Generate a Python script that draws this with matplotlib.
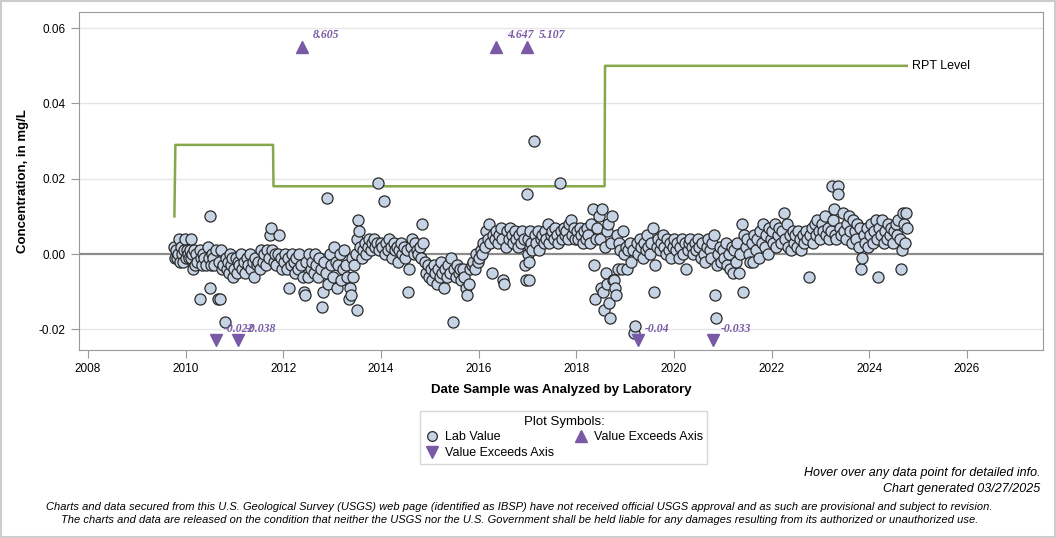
import numpy as np
import matplotlib.pyplot as plt
from matplotlib.patches import Rectangle
from matplotlib.lines import Line2D

# Lab values (decimal year, mg/L), grouped by period
lab_2009_2011 = [
    (2009.76, 0.002), (2009.78, -0.001), (2009.80, 0.001), (2009.82, -0.001), (2009.84, 0.000),
    (2009.86, 0.004), (2009.88, -0.002), (2009.90, 0.002), (2009.92, 0.000), (2009.94, -0.002),
    (2009.96, 0.001), (2009.98, 0.004), (2010.00, -0.001), (2010.02, 0.001), (2010.04, 0.000),
    (2010.06, -0.001), (2010.08, 0.001), (2010.10, 0.004), (2010.12, -0.001), (2010.14, 0.000),
    (2010.16, -0.004), (2010.18, 0.001), (2010.20, -0.003), (2010.22, 0.000), (2010.24, -0.002),
    (2010.29, -0.012), (2010.30, 0.001), (2010.32, -0.001), (2010.34, -0.003), (2010.36, 0.000),
    (2010.38, -0.001), (2010.42, -0.003), (2010.46, 0.002), (2010.48, -0.001), (2010.49, -0.009),
    (2010.50, 0.010), (2010.52, -0.003), (2010.54, 0.000), (2010.56, -0.001), (2010.58, -0.003),
    (2010.62, 0.001), (2010.66, -0.012), (2010.68, -0.002), (2010.70, -0.012), (2010.72, 0.001),
    (2010.74, -0.004), (2010.77, -0.003), (2010.80, -0.018), (2010.82, -0.001), (2010.84, -0.004),
    (2010.86, -0.002), (2010.88, -0.005), (2010.90, 0.000), (2010.93, -0.003), (2010.95, -0.001),
    (2010.97, -0.006),
]
lab_2011_2013 = [
    (2011.00, -0.004), (2011.03, -0.001), (2011.05, -0.005), (2011.08, -0.002), (2011.10, -0.003),
    (2011.13, 0.000), (2011.16, -0.004), (2011.19, -0.002), (2011.22, -0.005), (2011.25, -0.001),
    (2011.28, -0.003), (2011.31, 0.000), (2011.34, -0.004), (2011.37, -0.002), (2011.40, -0.006),
    (2011.43, -0.001), (2011.46, -0.003), (2011.49, -0.002), (2011.52, -0.004), (2011.55, 0.001),
    (2011.58, -0.002), (2011.61, 0.000), (2011.64, -0.003), (2011.67, 0.001), (2011.70, -0.001),
    (2011.73, 0.005), (2011.75, 0.007), (2011.77, 0.001), (2011.80, -0.002), (2011.83, 0.000),
    (2011.86, -0.003), (2011.89, 0.000), (2011.92, 0.005), (2011.95, -0.001), (2011.98, -0.004),
    (2012.01, -0.002), (2012.04, 0.000), (2012.07, -0.004), (2012.10, -0.001), (2012.12, -0.009),
    (2012.15, -0.003), (2012.18, 0.000), (2012.21, -0.002), (2012.24, -0.005), (2012.27, -0.001),
    (2012.30, -0.004), (2012.33, 0.000), (2012.36, -0.003), (2012.40, -0.006), (2012.43, -0.010),
    (2012.45, -0.011), (2012.47, -0.002), (2012.50, -0.006), (2012.53, 0.000), (2012.56, -0.004),
    (2012.59, -0.002), (2012.62, -0.005), (2012.65, 0.000), (2012.68, -0.003), (2012.71, -0.006),
    (2012.74, -0.001), (2012.77, -0.004), (2012.80, -0.014), (2012.82, -0.010), (2012.84, -0.002),
    (2012.87, -0.005), (2012.90, 0.015), (2012.92, -0.008), (2012.95, 0.000), (2012.98, -0.003),
]
lab_2013_2015 = [
    (2013.01, -0.006), (2013.04, 0.002), (2013.07, -0.002), (2013.10, -0.009), (2013.13, -0.003),
    (2013.16, 0.000), (2013.19, -0.007), (2013.22, -0.004), (2013.25, 0.001), (2013.28, -0.003),
    (2013.31, -0.006), (2013.34, -0.012), (2013.36, -0.009), (2013.38, -0.011), (2013.40, -0.001),
    (2013.42, -0.006), (2013.45, -0.003), (2013.48, 0.000), (2013.50, -0.015), (2013.52, 0.004),
    (2013.54, 0.009), (2013.56, 0.006), (2013.58, 0.002), (2013.61, -0.001), (2013.64, 0.001),
    (2013.67, 0.003), (2013.70, 0.000), (2013.73, 0.002), (2013.76, 0.004), (2013.79, 0.001),
    (2013.82, 0.003), (2013.85, 0.004), (2013.88, 0.002), (2013.91, 0.003), (2013.94, 0.019),
    (2013.97, 0.001),
    (2014.00, 0.003), (2014.03, 0.002), (2014.06, 0.014), (2014.08, 0.000), (2014.11, 0.003),
    (2014.14, 0.001), (2014.17, 0.004), (2014.20, 0.002), (2014.23, -0.001), (2014.26, 0.003),
    (2014.29, 0.001), (2014.32, 0.002), (2014.35, -0.002), (2014.38, 0.001), (2014.41, 0.003),
    (2014.44, 0.000), (2014.47, 0.002), (2014.50, -0.001), (2014.53, 0.001), (2014.56, -0.010),
    (2014.58, -0.004), (2014.61, 0.002), (2014.64, 0.004), (2014.67, 0.000), (2014.70, 0.003),
    (2014.73, 0.001), (2014.76, 0.000), (2014.79, 0.002), (2014.82, -0.001), (2014.85, 0.008),
    (2014.87, 0.003), (2014.90, -0.002), (2014.93, -0.005), (2014.96, -0.003), (2014.99, -0.006),
]
lab_2015_2017 = [
    (2015.02, -0.004), (2015.05, -0.007), (2015.08, -0.003), (2015.11, -0.005), (2015.14, -0.008),
    (2015.17, -0.004), (2015.20, -0.006), (2015.23, -0.002), (2015.26, -0.005), (2015.29, -0.009),
    (2015.32, -0.004), (2015.35, -0.006), (2015.38, -0.003), (2015.41, -0.005), (2015.44, -0.001),
    (2015.47, -0.018), (2015.50, -0.004), (2015.53, -0.006), (2015.56, -0.003), (2015.59, -0.005),
    (2015.62, -0.004), (2015.65, -0.007), (2015.68, -0.004), (2015.71, -0.006), (2015.74, -0.009),
    (2015.77, -0.011), (2015.80, -0.008), (2015.83, -0.004), (2015.86, -0.003), (2015.89, -0.002),
    (2015.92, -0.004), (2015.95, 0.000), (2015.98, -0.002),
    (2016.01, -0.001), (2016.04, 0.001), (2016.07, 0.000), (2016.10, 0.003), (2016.13, 0.002),
    (2016.16, 0.006), (2016.19, 0.004), (2016.21, 0.008), (2016.24, 0.003), (2016.27, -0.005),
    (2016.30, 0.005), (2016.33, 0.004), (2016.36, 0.006), (2016.39, 0.003), (2016.42, 0.005),
    (2016.45, 0.007), (2016.48, 0.004), (2016.51, -0.007), (2016.53, -0.008), (2016.56, 0.002),
    (2016.59, 0.006), (2016.62, 0.004), (2016.65, 0.007), (2016.68, 0.005), (2016.71, 0.003),
    (2016.74, 0.006), (2016.77, 0.004), (2016.80, 0.002), (2016.83, 0.005), (2016.86, 0.003),
    (2016.89, 0.006), (2016.92, 0.004), (2016.95, -0.003), (2016.97, -0.007), (2016.99, 0.016),
]
lab_2017_2019 = [
    (2017.01, 0.004), (2017.02, 0.000), (2017.03, -0.007), (2017.04, -0.002), (2017.05, 0.002),
    (2017.06, 0.006), (2017.08, 0.003), (2017.10, 0.001), (2017.13, 0.030), (2017.15, 0.005),
    (2017.18, 0.003), (2017.21, 0.006), (2017.24, 0.001), (2017.27, 0.004), (2017.30, 0.005),
    (2017.33, 0.003), (2017.36, 0.006), (2017.39, 0.004), (2017.42, 0.008), (2017.45, 0.003),
    (2017.48, 0.005), (2017.51, 0.006), (2017.54, 0.004), (2017.57, 0.007), (2017.60, 0.005),
    (2017.63, 0.003), (2017.66, 0.019), (2017.68, 0.006), (2017.71, 0.004), (2017.74, 0.007),
    (2017.77, 0.005), (2017.80, 0.006), (2017.83, 0.004), (2017.86, 0.008), (2017.89, 0.009),
    (2017.92, 0.005), (2017.95, 0.007), (2017.98, 0.004),
    (2018.01, 0.006), (2018.04, 0.004), (2018.07, 0.007), (2018.10, 0.005), (2018.13, 0.003),
    (2018.16, 0.006), (2018.19, 0.004), (2018.22, 0.007), (2018.25, 0.005), (2018.28, 0.003),
    (2018.31, 0.008), (2018.34, 0.012), (2018.36, -0.003), (2018.38, -0.012), (2018.40, 0.004),
    (2018.43, 0.007), (2018.46, 0.010), (2018.48, 0.004), (2018.50, -0.009), (2018.52, 0.012),
    (2018.54, -0.010), (2018.56, -0.015), (2018.58, 0.002), (2018.60, -0.005), (2018.62, 0.006),
    (2018.64, -0.008), (2018.66, 0.008), (2018.68, -0.013), (2018.70, -0.017), (2018.72, 0.003),
    (2018.74, 0.010), (2018.76, -0.007), (2018.78, -0.007), (2018.80, -0.009), (2018.82, -0.011),
    (2018.84, 0.005), (2018.86, -0.004), (2018.88, 0.003), (2018.90, 0.001), (2018.93, -0.004),
    (2018.96, 0.006), (2018.98, 0.000),
]
lab_2019_2021 = [
    (2019.01, 0.002), (2019.04, -0.004), (2019.07, 0.001), (2019.10, 0.003), (2019.13, -0.002),
    (2019.16, 0.001), (2019.19, -0.021), (2019.21, -0.019), (2019.24, 0.003), (2019.27, 0.000),
    (2019.30, 0.004), (2019.33, 0.002), (2019.36, -0.001), (2019.39, 0.003), (2019.42, 0.001),
    (2019.45, 0.005), (2019.48, 0.002), (2019.51, 0.000), (2019.54, 0.003), (2019.57, 0.007),
    (2019.59, -0.010), (2019.62, -0.003), (2019.65, 0.002), (2019.68, 0.004), (2019.71, 0.001),
    (2019.74, 0.003), (2019.77, 0.005), (2019.80, 0.002), (2019.83, 0.000), (2019.86, 0.004),
    (2019.89, 0.001), (2019.92, 0.003), (2019.95, -0.001), (2019.98, 0.002),
    (2020.01, 0.004), (2020.04, 0.001), (2020.07, 0.003), (2020.10, -0.001), (2020.13, 0.002),
    (2020.16, 0.004), (2020.19, 0.000), (2020.22, 0.003), (2020.25, -0.004), (2020.28, 0.001),
    (2020.31, 0.003), (2020.34, 0.004), (2020.37, 0.002), (2020.40, 0.000), (2020.43, 0.003),
    (2020.46, 0.001), (2020.49, 0.004), (2020.52, 0.002), (2020.55, -0.001), (2020.58, 0.003),
    (2020.61, 0.000), (2020.64, -0.002), (2020.67, 0.002), (2020.70, 0.004), (2020.73, 0.001),
    (2020.76, -0.001), (2020.79, 0.003), (2020.82, 0.005), (2020.84, -0.011), (2020.86, -0.017),
    (2020.88, -0.003), (2020.91, 0.000), (2020.94, 0.002), (2020.97, -0.002),
]
lab_2021_2023 = [
    (2021.00, 0.001), (2021.03, -0.001), (2021.06, 0.003), (2021.09, -0.003), (2021.12, 0.000),
    (2021.15, -0.004), (2021.18, 0.002), (2021.21, -0.005), (2021.24, 0.001), (2021.27, -0.002),
    (2021.30, 0.003), (2021.33, -0.005), (2021.36, 0.000), (2021.39, 0.008), (2021.41, -0.010),
    (2021.44, 0.005), (2021.47, 0.002), (2021.50, 0.004), (2021.53, 0.000), (2021.56, -0.002),
    (2021.59, 0.003), (2021.62, -0.002), (2021.65, 0.005), (2021.68, 0.001), (2021.71, 0.004),
    (2021.74, -0.001), (2021.77, 0.006), (2021.80, 0.003), (2021.83, 0.008), (2021.86, 0.002),
    (2021.89, 0.005), (2021.92, 0.000), (2021.95, 0.007), (2021.98, 0.004),
    (2022.01, 0.006), (2022.04, 0.003), (2022.07, 0.008), (2022.10, 0.002), (2022.13, 0.005),
    (2022.16, 0.007), (2022.19, 0.003), (2022.22, 0.006), (2022.25, 0.011), (2022.28, 0.004),
    (2022.31, 0.008), (2022.34, 0.002), (2022.37, 0.005), (2022.40, 0.001), (2022.43, 0.006),
    (2022.46, 0.003), (2022.49, 0.005), (2022.52, 0.002), (2022.55, 0.006), (2022.58, 0.004),
    (2022.61, 0.001), (2022.64, 0.005), (2022.67, 0.003), (2022.70, 0.006), (2022.73, 0.004),
    (2022.76, -0.006), (2022.79, 0.005), (2022.82, 0.007), (2022.85, 0.003), (2022.88, 0.008),
    (2022.91, 0.005), (2022.94, 0.009), (2022.97, 0.006),
]
lab_2023_2025 = [
    (2023.00, 0.004), (2023.03, 0.008), (2023.06, 0.006), (2023.09, 0.010), (2023.12, 0.005),
    (2023.15, 0.007), (2023.18, 0.004), (2023.21, 0.006), (2023.24, 0.018), (2023.26, 0.009),
    (2023.28, 0.012), (2023.30, 0.005), (2023.33, 0.004), (2023.36, 0.018), (2023.37, 0.016),
    (2023.40, 0.007), (2023.43, 0.005), (2023.46, 0.011), (2023.49, 0.006), (2023.52, 0.004),
    (2023.55, 0.008), (2023.58, 0.010), (2023.61, 0.006), (2023.64, 0.003), (2023.67, 0.009),
    (2023.70, 0.006), (2023.73, 0.004), (2023.76, 0.008), (2023.79, 0.002), (2023.82, 0.007),
    (2023.84, -0.004), (2023.86, -0.001), (2023.89, 0.005), (2023.92, 0.003), (2023.95, 0.007),
    (2023.98, 0.002),
    (2024.01, 0.005), (2024.04, 0.008), (2024.07, 0.003), (2024.10, 0.006), (2024.13, 0.009),
    (2024.16, 0.004), (2024.19, -0.006), (2024.21, 0.007), (2024.24, 0.005), (2024.27, 0.009),
    (2024.30, 0.003), (2024.33, 0.006), (2024.36, 0.004), (2024.39, 0.008), (2024.42, 0.005),
    (2024.45, 0.007), (2024.48, 0.003), (2024.51, 0.006), (2024.54, 0.008), (2024.57, 0.005),
    (2024.60, 0.009), (2024.63, 0.004), (2024.65, -0.004), (2024.67, 0.001), (2024.69, 0.011),
    (2024.71, 0.008), (2024.73, 0.003), (2024.75, 0.011), (2024.77, 0.007),
]

# RPT level (step line)
rpt_years = [2009.77, 2009.79, 2011.79, 2011.80, 2018.58, 2018.59, 2024.77]
rpt_values = [0.010, 0.029, 0.029, 0.018, 0.018, 0.050, 0.050]

# values off the axis (shown as triangles with the real value as label)
high_years = [2012.38, 2016.35, 2017.00]
high_labels = ["8.605", "4.647", "5.107"]
low_years = [2010.63, 2011.08, 2019.27, 2020.81]
low_labels = ["-0.022", "-0.038", "-0.04", "-0.033"]

lab = (lab_2009_2011 + lab_2011_2013 + lab_2013_2015 + lab_2015_2017
       + lab_2017_2019 + lab_2019_2021 + lab_2021_2023 + lab_2023_2025)
lab_x = np.array([p[0] for p in lab])
lab_y = np.array([p[1] for p in lab])

plt.rcParams['font.family'] = ['Liberation Sans', 'DejaVu Sans']
purple = '#7a5aa6'

fig = plt.figure(figsize=(10.56, 5.38), dpi=100)
ax = fig.add_axes([0.0748, 0.3494, 0.9129, 0.6283])

ax.set_xlim(2007.816, 2027.56)
ax.set_ylim(-0.0255, 0.0643)

for g in [-0.02, 0.02, 0.04, 0.06]:
    ax.axhline(g, color='#e6e6e6', lw=1, zorder=0)
ax.axhline(0, color='#8c8c8c', lw=1.6, zorder=1)

ax.plot(rpt_years, rpt_values, color='#86a74a', lw=1.8, zorder=2)
ax.text(rpt_years[-1] + 0.1, rpt_values[-1], "RPT Level", fontsize=9, va='center', ha='left')

ax.plot(lab_x, lab_y, 'o', ms=8, mfc='#c6d3e5', mec='#2a2a2a', mew=0.9, zorder=3, ls='none')

ax.plot(high_years, [0.055] * len(high_years), '^', ms=8, color=purple, mec=purple, zorder=4, ls='none')
for x, lbl in zip(high_years, high_labels):
    ax.annotate(lbl, (x, 0.055), xytext=(8, 4), textcoords='offset points',
                fontsize=8.5, color=purple, fontweight='bold', fontstyle='italic',
                family='Liberation Serif', va='bottom', ha='left')

ax.plot(low_years, [-0.0229] * len(low_years), 'v', ms=8, color=purple, mec=purple, zorder=4, ls='none')
for x, lbl in zip(low_years, low_labels):
    ax.annotate(lbl, (x, -0.0229), xytext=(5, 4), textcoords='offset points',
                fontsize=8.5, color=purple, fontweight='bold', fontstyle='italic',
                family='Liberation Serif', va='bottom', ha='left')

ax.set_xticks(np.arange(2008, 2027, 2))
ax.set_yticks([-0.02, 0.0, 0.02, 0.04, 0.06])
ax.set_yticklabels(['-0.02', '0.00', '0.02', '0.04', '0.06'])
ax.tick_params(axis='both', labelsize=8.5, color='#999999', length=6, direction='out')
ax.tick_params(axis='x', pad=3)
for s in ax.spines.values():
    s.set_color('#999999')

ax.set_xlabel('Date Sample was Analyzed by Laboratory', fontsize=9.5, fontweight='bold', labelpad=7)
ax.set_ylabel('Concentration, in mg/L', fontsize=9.5, fontweight='bold', labelpad=7)

# legend box
h_lab = Line2D([], [], marker='o', ls='none', ms=7, mfc='#c6d3e5', mec='#2a2a2a', mew=0.9)
h_dn = Line2D([], [], marker='v', ls='none', ms=8, color=purple)
h_up = Line2D([], [], marker='^', ls='none', ms=8, color=purple)
leg = fig.legend([h_lab, h_dn, h_up], ['Lab Value', 'Value Exceeds Axis', 'Value Exceeds Axis'],
                 ncol=2, title='Plot Symbols:', loc='center', bbox_to_anchor=(0.534, 0.187),
                 fontsize=9, title_fontsize=9.5, frameon=True, fancybox=False,
                 edgecolor='#cccccc', handletextpad=0.4, columnspacing=1.6,
                 labelspacing=0.3, borderpad=0.35, handlelength=1.2)
leg.get_frame().set_linewidth(1)

fig.text(0.985, 0.121, 'Hover over any data point for detailed info.', ha='right', va='center',
         fontsize=9, fontstyle='italic')
fig.text(0.985, 0.091, 'Chart generated 03/27/2025', ha='right', va='center',
         fontsize=9, fontstyle='italic')
fig.text(0.492, 0.058, 'Charts and data secured from this U.S. Geological Survey (USGS) web page (identified as IBSP) '
         'have not received official USGS approval and as such are provisional and subject to revision.',
         ha='center', va='center', fontsize=8, fontstyle='italic')
fig.text(0.492, 0.034, 'The charts and data are released on the condition that neither the USGS nor the U.S. '
         'Government shall be held liable for any damages resulting from its authorized or unauthorized use.',
         ha='center', va='center', fontsize=8, fontstyle='italic')

fig.patches.append(Rectangle((0.001, 0.001), 0.998, 0.998, transform=fig.transFigure,
                             fill=False, edgecolor='#cccccc', lw=1.5))

fig.savefig('out.png', dpi=100)
